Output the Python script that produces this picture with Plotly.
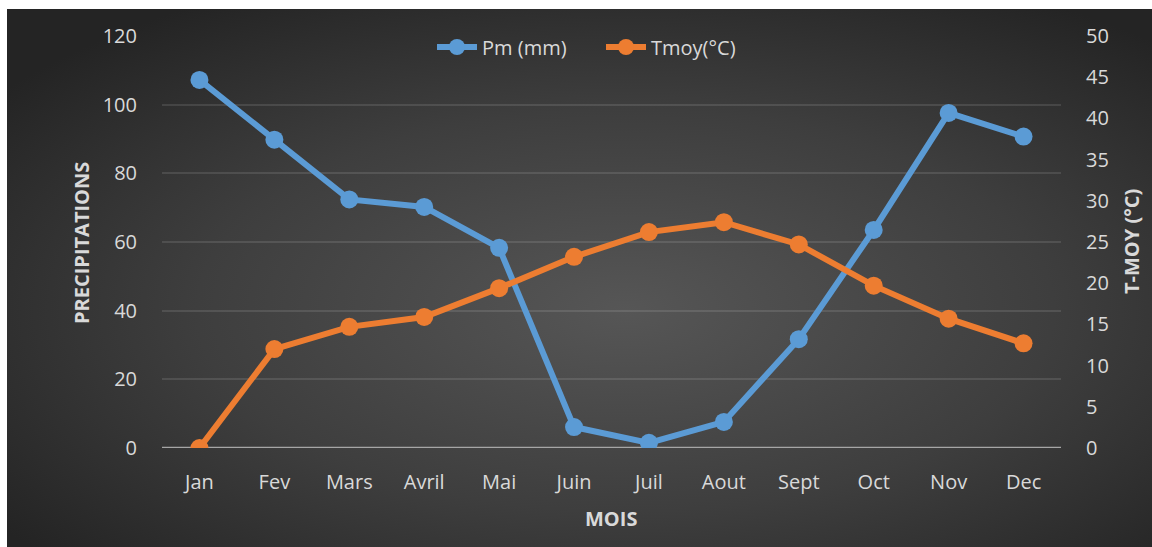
import base64
import plotly.graph_objects as go

# Monthly climate data
months = ["Jan", "Fev", "Mars", "Avril", "Mai", "Juin", "Juil", "Aout", "Sept", "Oct", "Nov", "Dec"]
precip_mm = [107.2, 89.8, 72.4, 70.2, 58.3, 6.1, 1.5, 7.6, 31.7, 63.5, 97.6, 90.7]
temp_c = [0.0, 12.0, 14.7, 15.9, 19.4, 23.2, 26.2, 27.4, 24.7, 19.7, 15.7, 12.7]

left_ticks = [0, 20, 40, 60, 80, 100, 120]
right_ticks = [0, 5, 10, 15, 20, 25, 30, 35, 40, 45, 50]

BLUE = "#5B9BD5"
ORANGE = "#ED7D31"
TEXT = "#D9D9D9"
FONT = "Open Sans"
FS = 20

W, H = 1152, 547
L, R, T, B = 162, 91, 36, 99
PW, PH = W - L - R, H - T - B


def px_to_paper_x(px):
    return (px - L) / PW


def py_to_paper_y(py):
    return (H - B - py) / PH


# Dark radial-gradient chart area drawn as an SVG image behind the plot
svg = (
    '<svg xmlns="http://www.w3.org/2000/svg" width="1145" height="538" '
    'preserveAspectRatio="none" viewBox="0 0 1145 538">'
    '<defs><radialGradient id="g" cx="0.54" cy="0.56" r="0.68">'
    '<stop offset="0" stop-color="#565656"/>'
    '<stop offset="0.55" stop-color="#3e3e3e"/>'
    '<stop offset="1" stop-color="#242424"/>'
    '</radialGradient></defs>'
    '<rect x="0" y="0" width="1145" height="538" fill="url(#g)"/></svg>'
)
bg_src = "data:image/svg+xml;base64," + base64.b64encode(svg.encode()).decode()

fig = go.Figure()

fig.add_trace(go.Scatter(
    x=months, y=precip_mm, name="Pm (mm)", mode="lines+markers",
    line=dict(color=BLUE, width=6),
    marker=dict(color=BLUE, size=18),
    yaxis="y",
))
fig.add_trace(go.Scatter(
    x=months, y=temp_c, name="Tmoy(°C)", mode="lines+markers",
    line=dict(color=ORANGE, width=6),
    marker=dict(color=ORANGE, size=18),
    yaxis="y2",
))

x0, x1 = px_to_paper_x(7), px_to_paper_x(W)
y0, y1 = py_to_paper_y(H), py_to_paper_y(9)

fig.update_layout(
    width=W, height=H,
    margin=dict(l=L, r=R, t=T, b=B, pad=0),
    paper_bgcolor="white",
    plot_bgcolor="rgba(0,0,0,0)",
    font=dict(family=FONT, color=TEXT, size=FS),
    images=[dict(
        source=bg_src, xref="paper", yref="paper",
        x=x0, y=y1, sizex=x1 - x0, sizey=y1 - y0,
        xanchor="left", yanchor="top", sizing="stretch", layer="below",
    )],
    xaxis=dict(
        type="category", range=[-0.5, 11.5],
        showgrid=False, zeroline=False,
        showline=False, ticks="",
        ticklabelstandoff=20,
        tickfont=dict(size=FS, color=TEXT),
    ),
    yaxis=dict(
        range=[0, 120], tickvals=left_ticks,
        showgrid=True, gridcolor="rgba(255,255,255,0.11)", gridwidth=1.5,
        zeroline=False, showline=False, ticks="",
        ticklabelstandoff=24,
        tickfont=dict(size=FS, color=TEXT),
    ),
    yaxis2=dict(
        range=[0, 50], tickvals=right_ticks,
        overlaying="y", side="right",
        showgrid=False, zeroline=False, showline=False, ticks="",
        ticklabelstandoff=24,
        tickfont=dict(size=FS, color=TEXT),
    ),
    legend=dict(
        orientation="h",
        x=px_to_paper_x(432), xanchor="left",
        y=py_to_paper_y(47), yanchor="middle",
        bgcolor="rgba(0,0,0,0)",
        font=dict(size=FS, color=TEXT),
        itemwidth=40,
        entrywidth=114, entrywidthmode="pixels",
    ),
    shapes=[dict(
        type="line", xref="paper", yref="y",
        x0=0, x1=1, y0=0, y1=0,
        line=dict(color="#A6A6A6", width=2.5),
        layer="below",
    )],
    annotations=[
        dict(text="<b>PRECIPITATIONS</b>", xref="paper", yref="paper",
             x=px_to_paper_x(81), y=py_to_paper_y(243), textangle=-90,
             showarrow=False, font=dict(size=FS, color=TEXT),
             xanchor="center", yanchor="middle"),
        dict(text="<b>T-MOY (°C)</b>", xref="paper", yref="paper",
             x=px_to_paper_x(1131), y=py_to_paper_y(242), textangle=-90,
             showarrow=False, font=dict(size=FS, color=TEXT),
             xanchor="center", yanchor="middle"),
        dict(text="<b>MOIS</b>", xref="paper", yref="paper",
             x=px_to_paper_x(611), y=py_to_paper_y(518),
             showarrow=False, font=dict(size=FS, color=TEXT),
             xanchor="center", yanchor="middle"),
    ],
)

fig.write_html("out.html")
